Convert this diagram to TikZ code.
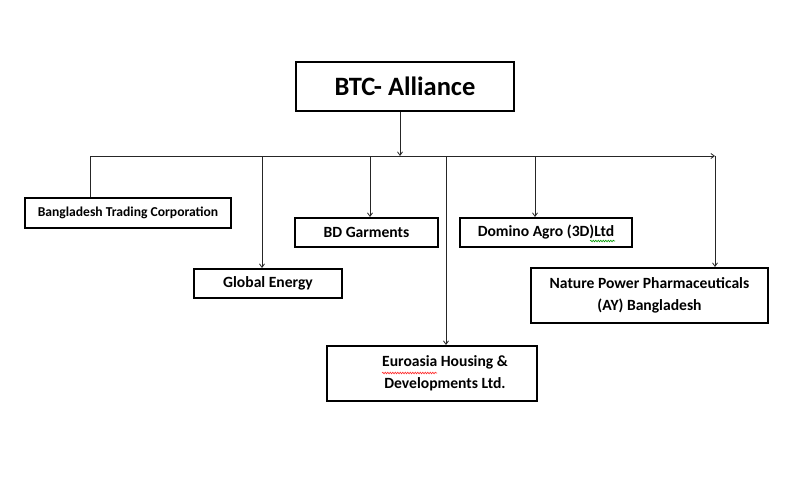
\documentclass[tikz,border=0pt]{standalone}
\usepackage{fontspec}
\setmainfont{Carlito}
\usetikzlibrary{arrows.meta,decorations.pathmorphing}
\begin{document}
\begin{tikzpicture}[x=1pt,y=-1pt,
  box/.style={draw=black, line width=2pt, fill=white, inner sep=0pt, font=\bfseries\fontsize{15.6}{22}\selectfont, align=center},
  conn/.style={draw=black!85, line width=0.8pt},
  arr/.style={conn, -{Straight Barb[length=3.5pt,width=5pt]}},
  squig/.style={line width=0.6pt, decorate, decoration={snake, amplitude=0.8pt, segment length=2.5pt}}
]
\useasboundingbox (0,0) rectangle (785,480);
\fill[white] (0,0) rectangle (785,480);

\node[box, minimum width=218pt, minimum height=49pt, font=\bfseries\fontsize{26.5}{30}\selectfont] (btc) at (405,86.5) {BTC- Alliance};
\node[box, minimum width=206pt, minimum height=30pt, font=\bfseries\fontsize{13.6}{16}\selectfont] (btcorp) at (128,213) {Bangladesh Trading Corporation};
\node[box, minimum width=148pt, minimum height=29pt] (ge) at (268,283.5) {Global Energy};
\node[box, minimum width=143pt, minimum height=29pt] (bdg) at (366.5,232.5) {BD Garments};
\node[box, minimum width=210pt, minimum height=55pt] (euro) at (432,373.5) {};
\node[font=\bfseries\fontsize{15.6}{22}\selectfont, align=center, inner sep=0pt] (eurotxt) at ([xshift=13pt]euro.center) {Euroasia Housing \&\\Developments Ltd.};
\node[box, minimum width=172pt, minimum height=29pt] (dom) at (546,232.5) {Domino Agro (3D)Ltd};
\node[box, minimum width=237pt, minimum height=55pt] (nat) at (649.5,295.5) {Nature Power Pharmaceuticals\\(AY) Bangladesh};

% bus coordinates
\coordinate (busL) at (90,156);
\coordinate (busR) at (715,156);
\coordinate (busTop) at (400,156);
\coordinate (bGE) at (262,156);
\coordinate (bBD) at (370,156);
\coordinate (bEU) at (446,156);
\coordinate (bDO) at (535,156);

\draw[arr] ([xshift=-5pt]btc.south) -- (busTop);
\draw[arr] (busL) -- (busR);
\draw[conn] (btcorp.north -| busL) -- (busL);
\draw[arr] (bGE) -- (bGE |- ge.north);
\draw[arr] (bBD) -- (bBD |- bdg.north);
\draw[arr] (bEU) -- (bEU |- euro.north);
\draw[arr] (bDO) -- (bDO |- dom.north);
\draw[arr] (busR) -- (busR |- nat.north);

% spell-check squiggles
\draw[squig, red!85] (382,373) -- (437,373);
\draw[squig, green!60!black] (590,241) -- (615,241);
\end{tikzpicture}
\end{document}
